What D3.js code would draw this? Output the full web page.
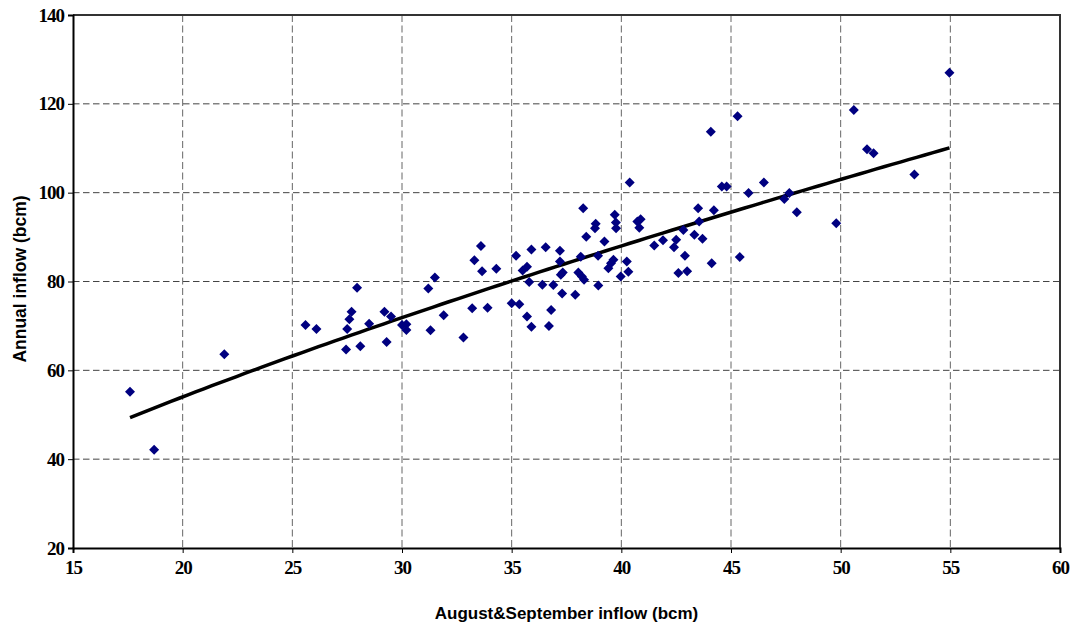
<!DOCTYPE html>
<html>
<head>
<meta charset="utf-8">
<script src="https://cdn.jsdelivr.net/npm/d3@7"></script>
<style>
  body { margin: 0; background: #fff; }
  .title { font-family: "Liberation Sans", Arial, sans-serif; font-weight: bold; fill: #000; }
</style>
</head>
<body>
<svg id="chart" width="1075" height="629"></svg>
<script>
// August&September inflow (bcm) vs annual inflow (bcm)
var augSep = [17.6, 18.7, 21.9, 25.6, 26.1, 27.95, 27.7, 27.6, 27.5, 27.45,
  28.1, 28.5, 29.2, 29.5, 29.3, 30.0, 30.2, 30.2, 31.3, 31.2,
  31.5, 31.9, 32.8, 33.2, 33.3, 33.6, 33.65, 33.9, 34.3, 35.0,
  35.2, 35.35, 35.5, 35.7, 35.8, 35.7, 35.9, 35.9, 36.55, 36.4,
  36.9, 36.8, 36.7, 37.2, 37.2, 37.33, 37.24, 37.3, 37.9, 38.15,
  38.04, 38.2, 38.3, 38.4, 38.83, 38.8, 39.23, 38.94, 38.95, 39.41,
  39.53, 39.64, 39.7, 39.75, 39.76, 39.97, 40.25, 40.32, 40.38, 40.73,
  40.88, 40.82, 41.5, 41.9, 42.5, 42.4, 42.9, 42.6, 43.0, 42.83,
  43.33, 43.7, 43.5, 43.55, 44.12, 44.22, 44.58, 44.8, 45.4, 45.8,
  46.5, 47.43, 47.66, 48.0, 54.96, 50.6, 44.08, 45.3, 51.2, 51.5,
  53.36, 49.8, 38.26];
var annual = [55.2, 42.1, 63.6, 70.2, 69.3, 78.6, 73.2, 71.5, 69.3, 64.7,
  65.4, 70.5, 73.2, 72.1, 66.4, 70.2, 70.4, 69.1, 69.0, 78.4,
  80.9, 72.4, 67.4, 74.0, 84.8, 88.0, 82.3, 74.1, 82.85, 75.1,
  85.8, 74.9, 82.5, 83.3, 79.9, 72.1, 69.8, 87.2, 87.7, 79.25,
  79.2, 73.6, 70.0, 86.9, 84.5, 82.0, 81.5, 77.3, 77.0, 85.6,
  82.0, 81.1, 80.4, 90.1, 93.0, 92.0, 89.0, 85.8, 79.1, 83.0,
  84.1, 84.9, 95.0, 93.3, 92.0, 81.1, 84.5, 82.2, 102.3, 93.5,
  94.0, 92.1, 88.1, 89.3, 89.4, 87.7, 85.8, 81.9, 82.3, 91.6,
  90.5, 89.6, 96.5, 93.5, 84.1, 96.05, 101.4, 101.4, 85.5, 99.9,
  102.3, 98.6, 99.9, 95.6, 127.0, 118.6, 113.7, 117.2, 109.8, 108.9,
  104.1, 93.1, 96.5];

var xTicks = [15, 20, 25, 30, 35, 40, 45, 50, 55, 60];
var yTicks = [20, 40, 60, 80, 100, 120, 140];

var svg = d3.select("#chart");
var margin = {top: 15, right: 15, bottom: 81, left: 73};
var width = 1075 - margin.left - margin.right;
var height = 629 - margin.top - margin.bottom;

var g = svg.append("g").attr("transform", "translate(" + margin.left + "," + margin.top + ")");

var x = d3.scaleLinear().domain([15, 60]).range([0, width]);
var y = d3.scaleLinear().domain([20, 140]).range([height, 0]);

// grid lines
g.append("g").selectAll("line").data(xTicks.slice(1, -1)).join("line")
  .attr("x1", d => x(d)).attr("x2", d => x(d))
  .attr("y1", 0).attr("y2", height)
  .attr("stroke", "#666").attr("stroke-width", 1).attr("stroke-dasharray", "7,3.5");
g.append("g").selectAll("line").data(yTicks.slice(1, -1)).join("line")
  .attr("y1", d => y(d)).attr("y2", d => y(d))
  .attr("x1", 0).attr("x2", width)
  .attr("stroke", "#444").attr("stroke-width", 1).attr("stroke-dasharray", "6.5,3.5");

// frame (top and right)
g.append("path")
  .attr("d", "M0,0H" + width + "V" + height)
  .attr("fill", "none").attr("stroke", "#333").attr("stroke-width", 2);

// axes
var xAxis = g.append("g").attr("transform", "translate(0," + height + ")")
  .call(d3.axisBottom(x).tickValues(xTicks).tickSize(5).tickPadding(8));
var yAxis = g.append("g")
  .call(d3.axisLeft(y).tickValues(yTicks).tickSize(5).tickPadding(4));
[xAxis, yAxis].forEach(function(a){
  a.attr("font-family", null).attr("font-size", null);
  a.select(".domain").attr("stroke", "#000").attr("stroke-width", 2);
  a.selectAll(".tick line").attr("stroke", "#000").attr("stroke-width", 1);
  a.selectAll(".tick text")
    .style("font-family", "'Liberation Serif', 'Times New Roman', serif")
    .style("font-weight", "bold").style("font-size", "19px")
    .attr("letter-spacing", "-1").attr("fill", "#000");
});

// power trend line fitted on log-log, like the spreadsheet trendline
var pts = augSep.map((v, i) => [v, annual[i]]);
var lx = pts.map(p => Math.log(p[0])), ly = pts.map(p => Math.log(p[1]));
var mx = d3.mean(lx), my = d3.mean(ly);
var b = d3.sum(lx, (v, i) => (v - mx) * (ly[i] - my)) / d3.sum(lx, v => (v - mx) * (v - mx));
var a = Math.exp(my - b * mx);
var xr = d3.extent(augSep);
var trend = d3.range(0, 101).map(i => xr[0] + (xr[1] - xr[0]) * i / 100);
g.append("path")
  .datum(trend)
  .attr("fill", "none").attr("stroke", "#000").attr("stroke-width", 3.5)
  .attr("d", d3.line().x(d => x(d)).y(d => y(a * Math.pow(d, b))));

// points
g.append("g").selectAll("path").data(pts).join("path")
  .attr("d", d3.symbol(d3.symbolSquare, 50))
  .attr("transform", d => "translate(" + x(d[0]) + "," + y(d[1]) + ") rotate(45)")
  .attr("fill", "#000080");

// titles
svg.append("text").attr("class", "title")
  .attr("x", margin.left + width / 2).attr("y", 619)
  .attr("text-anchor", "middle").attr("font-size", "17px")
  .text("August&September inflow (bcm)");
svg.append("text").attr("class", "title")
  .attr("transform", "translate(26,279) rotate(-90)")
  .attr("text-anchor", "middle").attr("font-size", "17.5px")
  .text("Annual inflow (bcm)");
</script>
</body>
</html>
